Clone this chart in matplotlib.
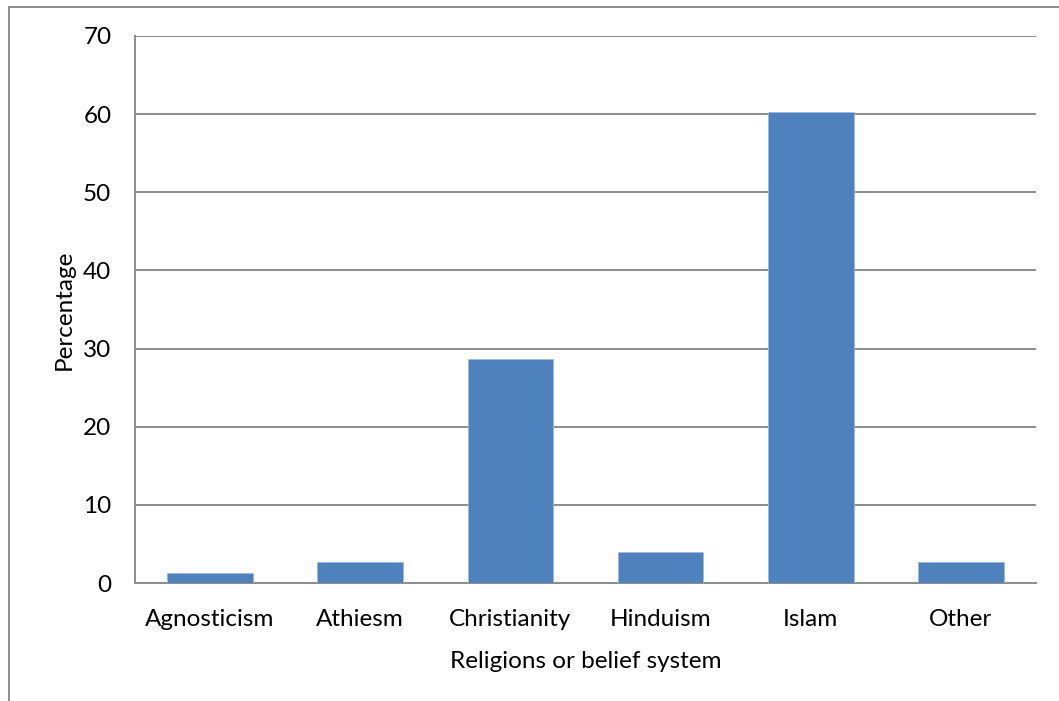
import matplotlib
matplotlib.use('Agg')
import matplotlib.pyplot as plt
from matplotlib.lines import Line2D

# data
religions = ['Agnosticism', 'Athiesm', 'Christianity', 'Hinduism', 'Islam', 'Other']
percentages = [1.3, 2.7, 28.7, 4.0, 60.3, 2.7]
y_ticks = [0, 10, 20, 30, 40, 50, 60, 70]

plt.rcParams['font.family'] = ['Lato', 'DejaVu Sans']

fig = plt.figure(figsize=(10.59, 7.01), dpi=100)
ax = fig.add_axes([135 / 1059, 118 / 701, 901 / 1059, 547 / 701])

x = list(range(len(religions)))
ax.bar(x, percentages, width=0.57, color='#4F81BD',
       edgecolor='#9DBBE0', linewidth=0.6, zorder=3)

ax.set_xlim(-0.5, len(religions) - 0.5)
ax.set_ylim(0, 70)
ax.set_yticks(y_ticks)
ax.set_xticks(x)
ax.set_xticklabels(religions)
ax.tick_params(axis='both', length=0, labelsize=17.5, colors='black')
ax.tick_params(axis='y', pad=17)
ax.tick_params(axis='x', pad=19)

# excel style grid
ax.yaxis.grid(True, color='#8C8C8C', linewidth=1.4, zorder=0)
for side in ['top', 'right']:
    ax.spines[side].set_visible(False)
for side in ['left', 'bottom']:
    ax.spines[side].set_color('#8C8C8C')
    ax.spines[side].set_linewidth(1.4)

ax.set_ylabel('Percentage', fontsize=17.5, labelpad=6)
ax.set_xlabel('Religions or belief system', fontsize=17.5, labelpad=15)

# chart area border (partly cut off at right and bottom)
fig.add_artist(Line2D([9 / 1059, 1.0], [694.5 / 701, 694.5 / 701],
                      color='#8C8C8C', linewidth=1.4))
fig.add_artist(Line2D([9 / 1059, 9 / 1059], [0.0, 694.5 / 701],
                      color='#8C8C8C', linewidth=1.4))

fig.savefig('out.png', dpi=100, facecolor='white')
